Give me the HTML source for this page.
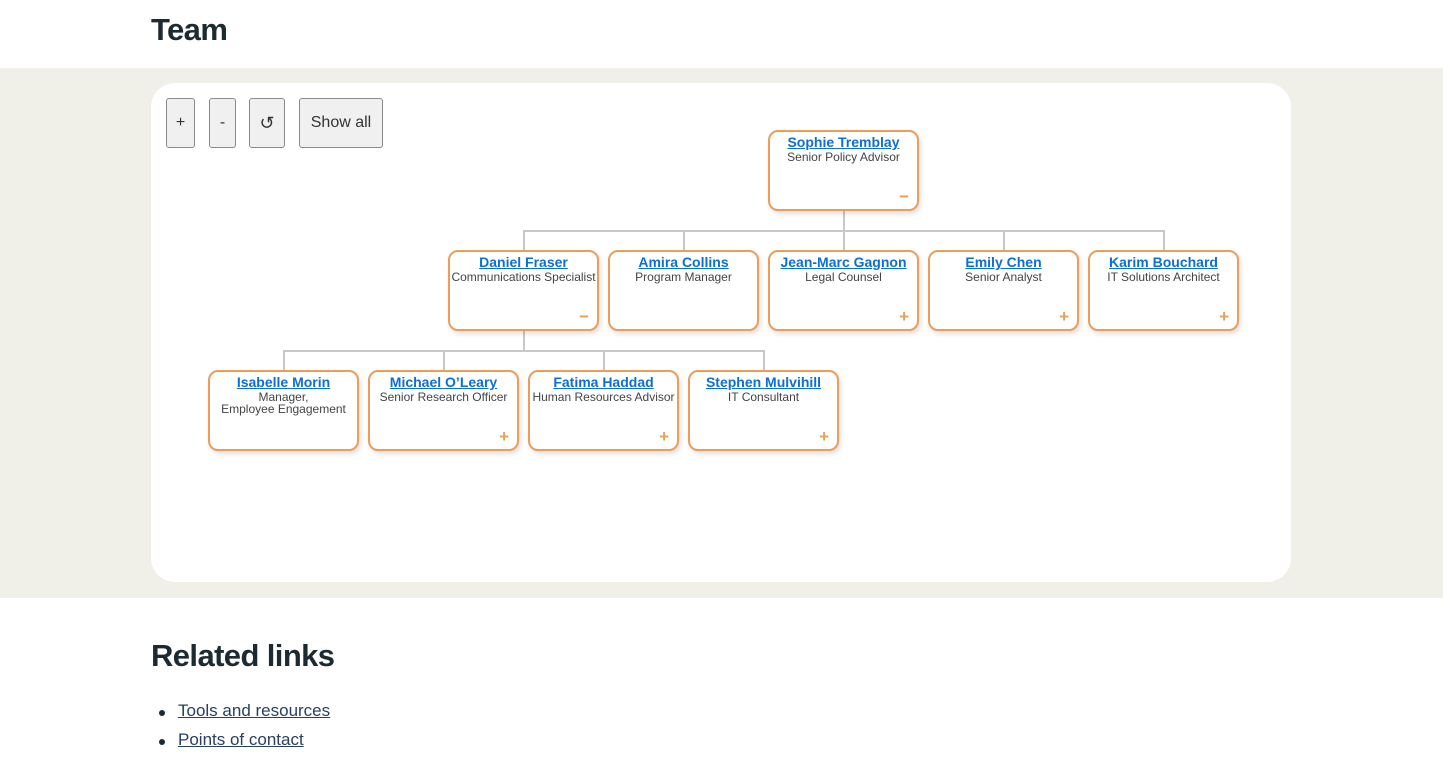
<!DOCTYPE html>
<html><head><meta charset="utf-8"><style>
*{margin:0;padding:0;box-sizing:border-box}
body{width:1443px;height:769px;background:#fff;font-family:"Liberation Sans",sans-serif;position:relative;overflow:hidden;color:#1c2a33}
h1,h2{position:absolute;left:151px;font-weight:bold;color:#1c2a33;letter-spacing:-0.6px}
h1{top:12px;font-size:31px}
h2{top:638px;font-size:31px}
.band{position:absolute;left:0;top:68px;width:1443px;height:530px;background:#f1f0e8}
.card{position:absolute;left:151px;top:83px;width:1140px;height:499px;background:#fff;border-radius:24px}
.btn{position:absolute;top:98px;height:50px;background:#f0f0f0;border:1px solid #8a8a8a;border-radius:3px;font-size:16px;color:#333;display:flex;align-items:center;justify-content:center}
.n{position:absolute;width:151px;height:81px;border:2px solid #ec9d58;border-radius:10px;background:#fff;text-align:center;box-shadow:2px 3px 5px rgba(0,0,0,.12)}
.n a{display:block;margin-top:2px;font-size:14px;font-weight:bold;color:#0a6fd8;text-decoration:underline}
.n span{display:block;font-size:12px;color:#444;line-height:12px;margin-top:1px}
.i{position:absolute;right:8px;bottom:6px;color:#ec9d58;font-weight:bold;font-size:17px;line-height:12px}
.l{position:absolute;background:#c8c8c8}
ul{position:absolute;left:178px;top:701px;font-size:17px;list-style:none}
li{height:29px;position:relative}
li:before{content:"";position:absolute;left:-19px;top:9px;width:6px;height:6px;border-radius:50%;background:#1c2a33}
li a{color:#284162;text-decoration:underline}
</style></head><body>
<h1>Team</h1>
<div class="band"></div>
<div class="card"></div>
<div class="btn" style="left:166px;width:29px">+</div>
<div class="btn" style="left:209px;width:27px">-</div>
<div class="btn" style="left:249px;width:36px;font-size:18px">↺</div>
<div class="btn" style="left:299px;width:84px">Show all</div>
<div class="l" style="left:843px;top:211px;width:2px;height:20px"></div>
<div class="l" style="left:523px;top:230px;width:642px;height:2px"></div>
<div class="l" style="left:523px;top:230px;width:2px;height:21px"></div>
<div class="l" style="left:683px;top:230px;width:2px;height:21px"></div>
<div class="l" style="left:843px;top:230px;width:2px;height:21px"></div>
<div class="l" style="left:1003px;top:230px;width:2px;height:21px"></div>
<div class="l" style="left:1163px;top:230px;width:2px;height:21px"></div>
<div class="l" style="left:523px;top:331px;width:2px;height:20px"></div>
<div class="l" style="left:283px;top:350px;width:482px;height:2px"></div>
<div class="l" style="left:283px;top:350px;width:2px;height:21px"></div>
<div class="l" style="left:443px;top:350px;width:2px;height:21px"></div>
<div class="l" style="left:603px;top:350px;width:2px;height:21px"></div>
<div class="l" style="left:763px;top:350px;width:2px;height:21px"></div>

<div class="n" style="left:768px;top:130px"><a>Sophie Tremblay</a><span>Senior Policy Advisor</span><div class="i">−</div></div>
<div class="n" style="left:448px;top:250px"><a>Daniel Fraser</a><span>Communications Specialist</span><div class="i">−</div></div>
<div class="n" style="left:608px;top:250px"><a>Amira Collins</a><span>Program Manager</span></div>
<div class="n" style="left:768px;top:250px"><a>Jean-Marc Gagnon</a><span>Legal Counsel</span><div class="i">+</div></div>
<div class="n" style="left:928px;top:250px"><a>Emily Chen</a><span>Senior Analyst</span><div class="i">+</div></div>
<div class="n" style="left:1088px;top:250px"><a>Karim Bouchard</a><span>IT Solutions Architect</span><div class="i">+</div></div>
<div class="n" style="left:208px;top:370px"><a>Isabelle Morin</a><span>Manager,<br>Employee Engagement</span></div>
<div class="n" style="left:368px;top:370px"><a>Michael O’Leary</a><span>Senior Research Officer</span><div class="i">+</div></div>
<div class="n" style="left:528px;top:370px"><a>Fatima Haddad</a><span>Human Resources Advisor</span><div class="i">+</div></div>
<div class="n" style="left:688px;top:370px"><a>Stephen Mulvihill</a><span>IT Consultant</span><div class="i">+</div></div>

<h2>Related links</h2>
<ul><li><a>Tools and resources</a></li><li><a>Points of contact</a></li></ul>
</body></html>
